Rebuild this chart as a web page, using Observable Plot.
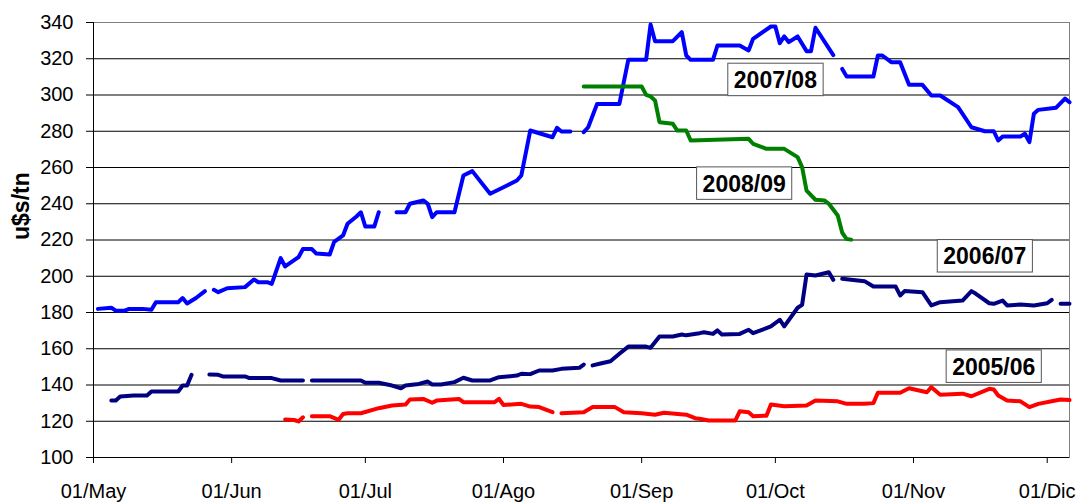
<!DOCTYPE html>
<html><head><meta charset="utf-8">
<script src="https://cdn.jsdelivr.net/npm/d3@7"></script>
<script src="https://cdn.jsdelivr.net/npm/@observablehq/plot@0.6"></script>
<style>body{margin:0;background:#fff}</style>
</head><body><div id="chart"></div>
<script>
const YEAR = 2007;

const monthTicks = ["05-01","06-01","07-01","08-01","09-01","10-01","11-01","12-01"];
const monthLabels = ["01/May","01/Jun","01/Jul","01/Ago","01/Sep","01/Oct","01/Nov","01/Dic"];
const yTicks = [100,120,140,160,180,200,220,240,260,280,300,320,340];
const yLabel = "u$s/tn";

// 2007/08
const dates0708 = ["05-02","05-05","05-06","05-08","05-09","05-12","05-14","05-15","05-20","05-21","05-22","05-24","05-26","05-27","05-28","05-29","05-31","06-04","06-06","06-07","06-09","06-10","06-12","06-13","06-16","06-17","06-19","06-20","06-23","06-24","06-26","06-27","06-29","06-30","07-01","07-03","07-04","07-06","07-08","07-10","07-11","07-14","07-15","07-16","07-17","07-21","07-23","07-25","07-29","08-01","08-04","08-05","08-07","08-12","08-13","08-14","08-16","08-17","08-19","08-20","08-22","08-27","08-29","09-02","09-03","09-04","09-08","09-10","09-11","09-12","09-17","09-18","09-23","09-25","09-26","09-30","10-01","10-02","10-03","10-04","10-06","10-08","10-09","10-10","10-14","10-15","10-16","10-17","10-23","10-24","10-25","10-27","10-29","10-31","11-03","11-05","11-07","11-11","11-14","11-17","11-19","11-20","11-21","11-25","11-26","11-27","11-28","11-29","12-03","12-05","12-06"];
const values0708 = [182,182.6,181,181,182,182,181.5,185.7,185.7,188,185,188,191.8,null,192.5,191.2,193.4,194,198.2,196.7,196.7,195.8,210,205.4,210.5,215,215,212.5,212,219,222.5,229,233,235.3,227.4,227.4,235.3,null,235.3,235.3,240,241.8,240,232.6,235.3,235.3,255.6,258,245.5,249.1,252.8,255.6,280.4,276.7,281.9,279.9,279.9,null,279.5,282.2,295.1,295.1,319.4,319.4,338.9,329.7,329.7,334.7,321.8,319.4,319.4,327.3,327.3,324.6,331,337.8,337.8,328.6,332.3,329.2,332.3,324.2,324.2,337.1,322,null,314.4,310.2,310.2,321.8,321.8,318.1,318.1,305.6,305.6,299.7,299.7,293.3,282.2,280,280,274.9,277.1,277.1,278.6,274,289.6,291.8,293,298,296];

// 2008/09
const dates0809 = ["08-19","09-01","09-02","09-03","09-04","09-05","09-08","09-09","09-11","09-12","09-25","09-26","09-29","10-03","10-06","10-07","10-08","10-10","10-12","10-13","10-15","10-16","10-17","10-18"];
const values0809 = [304.7,304.7,300.1,299.2,297,285,284.1,280.4,280.4,274.9,275.8,273.1,270.3,270.3,265.7,260.2,247.3,242.2,241.8,240,233.5,224,220.5,220.2];

// 2006/07
const dates0607 = ["05-05","05-06","05-07","05-10","05-13","05-14","05-20","05-21","05-22","05-23","05-24","05-27","05-29","05-30","06-04","06-05","06-10","06-12","06-17","06-18","06-19","06-30","07-01","07-04","07-07","07-09","07-10","07-13","07-15","07-16","07-18","07-21","07-23","07-25","07-29","07-31","08-04","08-05","08-07","08-09","08-12","08-14","08-18","08-19","08-20","08-21","08-23","08-25","08-27","08-29","09-02","09-03","09-05","09-08","09-10","09-11","09-14","09-15","09-17","09-18","09-19","09-23","09-25","09-26","09-30","10-02","10-03","10-06","10-07","10-08","10-10","10-13","10-14","10-15","10-16","10-21","10-23","10-28","10-29","10-30","11-03","11-05","11-07","11-12","11-14","11-15","11-18","11-19","11-21","11-22","11-25","11-28","12-01","12-02","12-03","12-04","12-06"];
const values0607 = [131.4,131.4,133.6,134.2,134.2,136.4,136.4,139.7,139.7,145.6,null,145.8,145.6,144.7,144.7,143.8,143.8,142.5,142.5,null,142.5,142.5,141.2,141.2,139.7,138.2,139.7,140.6,141.9,140.3,140.3,141.6,144,142.5,142.5,144.3,145.2,146.2,146,148,148,148.9,149.5,151.3,null,150.8,152,153.1,157.2,161.2,161.2,160.5,166.8,166.8,167.9,167.4,168.6,169.1,168.2,170.1,167.9,168.2,170.5,168.6,172.3,176,172.3,182.6,184.2,201,200.4,202.2,198,null,198.6,197.3,194.3,194.3,189.4,191.8,191.2,183.9,185.7,186.6,191.8,190.3,185.1,184.8,186.6,183.9,184.4,183.9,185.1,187,null,184.8,184.8];

// 2005/06
const dates0506 = ["06-13","06-15","06-16","06-17","06-18","06-19","06-23","06-25","06-26","06-27","06-30","07-04","07-07","07-10","07-11","07-14","07-16","07-17","07-22","07-23","07-30","07-31","08-01","08-05","08-07","08-09","08-12","08-13","08-14","08-19","08-21","08-26","08-28","09-01","09-04","09-06","09-11","09-13","09-14","09-16","09-22","09-23","09-25","09-26","09-29","09-30","10-03","10-08","10-10","10-15","10-17","10-21","10-23","10-24","10-29","10-31","11-04","11-05","11-07","11-12","11-14","11-18","11-19","11-20","11-22","11-25","11-27","11-29","12-02","12-04","12-06"];
const values0506 = [121,120.7,119.9,122.2,null,122.8,122.8,120.8,124,124.4,124.4,127.2,128.7,129.2,132,132.3,130.2,131.4,132.3,130.5,130.5,132.3,129,129.6,128.1,127.8,125,null,124.4,125,127.8,127.8,125,124.4,123.6,124.7,123.6,121.7,121.4,120.4,120.4,125.5,125,122.8,123.1,129.2,128.3,128.7,131.4,131,129.6,129.6,130,135.7,135.7,138.2,136,138.8,134.6,135.2,133.8,137.9,137.5,134.2,131.4,131,127.8,129.6,131,132,131.7];

// season labels
const labelTexts = ["2007/08","2008/09","2006/07","2005/06"];
const labelDates = ["10-01","09-24","11-17","11-19"];
const labelValues = [308,250.8,210.7,149.8];

const parse = s => new Date(`${YEAR}-${s}T00:00:00Z`);
const rows = (dates, values) => dates.map((d, i) => ({date: parse(d), value: values[i]}));
const labels = labelTexts.map((t, i) => ({text: t, date: parse(labelDates[i]), value: labelValues[i]}));
const tickDates = monthTicks.map(parse);
const fmt = d => monthLabels[tickDates.findIndex(t => +t === +d)];

const lineOpts = {x: "date", y: "value", strokeWidth: 4, strokeLinejoin: "round", strokeLinecap: "round"};

const svg = Plot.plot({
  width: 1082, height: 503,
  marginLeft: 93, marginRight: 13, marginTop: 22, marginBottom: 46,
  style: {fontFamily: "'Liberation Sans', Arial, sans-serif", fontSize: "20px", color: "#000", background: "#fff", overflow: "visible"},
  x: {type: "utc", domain: [parse("05-01"), parse("12-06")]},
  y: {domain: [100, 340]},
  marks: [
    Plot.frame({stroke: "#808080"}),
    Plot.ruleY(yTicks.filter(v => v < 340), {stroke: "#000", strokeWidth: 1}),
    Plot.ruleX([parse("05-01")], {stroke: "#000", strokeWidth: 1}),
    Plot.axisY(yTicks, {tickSize: 7, tickPadding: 13, fontSize: 20, label: null}),
    Plot.axisX(tickDates, {tickSize: 6, tickPadding: 20, fontSize: 20, tickFormat: fmt, label: null}),
    Plot.text([yLabel], {frameAnchor: "left", rotate: -90, dx: -72, fontWeight: "bold", fontSize: 23}),
    Plot.line(rows(dates0506, values0506), {...lineOpts, stroke: "#FF0000"}),
    Plot.line(rows(dates0607, values0607), {...lineOpts, stroke: "#000080"}),
    Plot.line(rows(dates0708, values0708), {...lineOpts, stroke: "#0000FF"}),
    Plot.line(rows(dates0809, values0809), {...lineOpts, stroke: "#008000"}),
    Plot.text(labels, {x: "date", y: "value", text: "text", fontWeight: "bold", fontSize: 23, fill: "#000", className: "season-label"})
  ]
});
document.getElementById("chart").appendChild(svg);

// white boxes behind the season labels
const fs = 23;
svg.querySelectorAll(".season-label text").forEach(t => {
  const b = t.getBBox();
  const baseline = b.y + 0.905 * fs;
  const r = document.createElementNS("http://www.w3.org/2000/svg", "rect");
  r.setAttribute("x", b.x - 6);
  r.setAttribute("width", b.width + 12);
  r.setAttribute("y", baseline - 0.716 * fs - 8);
  r.setAttribute("height", 0.716 * fs + 16);
  r.setAttribute("fill", "#fff");
  r.setAttribute("stroke", "#555");
  r.setAttribute("stroke-width", 1);
  if (t.getAttribute("transform")) r.setAttribute("transform", t.getAttribute("transform"));
  t.parentNode.insertBefore(r, t);
});
</script>
</body></html>
